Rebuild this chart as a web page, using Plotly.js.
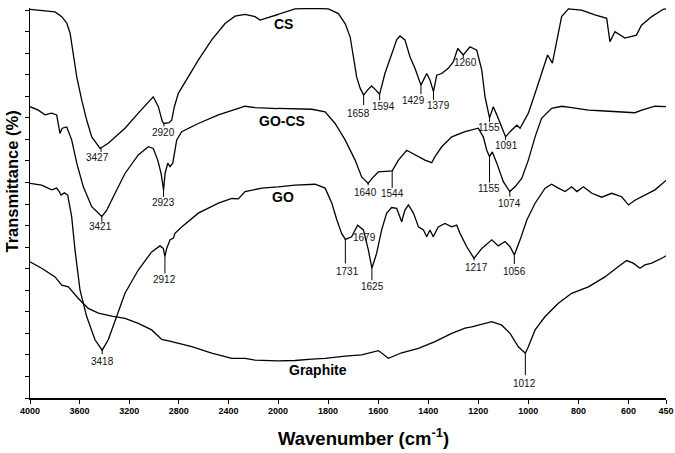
<!DOCTYPE html>
<html>
<head>
<meta charset="utf-8">
<script src="https://cdn.plot.ly/plotly-3.0.1.min.js"></script>
<style>
  html, body { margin: 0; padding: 0; background: #fff; }
  #chart { width: 675px; height: 453px; }
</style>
</head>
<body>
<div id="chart"></div>
<script>
// FTIR spectra (wavenumber in cm-1, transmittance in arbitrary %)
const csWn = [4000, 3798, 3744, 3704, 3677, 3651, 3623, 3583, 3543, 3502,
    3435, 3369, 3234, 3127, 3046, 3006, 2965, 2933, 2920, 2879,
    2857, 2836, 2804, 2723, 2643, 2535, 2427, 2347, 2266, 2185,
    2145, 2000, 1932, 1865, 1799, 1759, 1732, 1712, 1699, 1686,
    1672, 1658, 1642, 1626, 1610, 1594, 1573, 1546, 1526, 1513,
    1493, 1473, 1453, 1429, 1406, 1393, 1379, 1366, 1346, 1320,
    1300, 1282, 1260, 1233, 1206, 1186, 1173, 1155, 1140, 1126,
    1091, 1073, 1046, 1033, 1000, 973, 947, 923, 904, 887,
    867, 840, 787, 734, 687, 674, 654, 614, 568, 548,
    507, 461, 450];
const csT = [90.2, 89.6, 88.5, 87.0, 84.7, 80.0, 74.5, 69.1, 64.5, 60.6,
    57.9, 59.1, 62.6, 66.1, 68.7, 69.9, 67.6, 64.1, 63.7, 63.9,
    64.5, 67.6, 70.7, 74.5, 78.4, 83.1, 86.9, 88.6, 89.0, 88.5,
    87.7, 89.0, 90.3, 90.4, 90.3, 89.2, 86.9, 83.8, 79.2, 74.5,
    71.9, 70.3, 71.5, 72.4, 71.5, 70.5, 75.3, 80.0, 83.1, 84.0,
    83.1, 79.2, 76.5, 72.6, 75.3, 73.8, 71.1, 74.9, 75.3, 76.5,
    78.0, 81.1, 79.6, 81.5, 80.7, 76.1, 69.9, 65.0, 67.6, 65.7,
    60.6, 61.8, 63.3, 62.6, 66.1, 70.7, 75.3, 79.6, 77.7, 83.1,
    88.5, 90.3, 90.0, 88.9, 88.1, 82.7, 85.0, 83.5, 84.2, 86.5,
    88.5, 90.2, 90.3];

const goCsWn = [4000, 3933, 3879, 3825, 3785, 3772, 3758, 3740, 3704, 3664,
    3623, 3570, 3502, 3421, 3381, 3314, 3234, 3127, 3046, 3006,
    2970, 2943, 2923, 2911, 2889, 2871, 2849, 2817, 2777, 2643,
    2481, 2320, 2266, 2185, 2000, 1865, 1812, 1772, 1732, 1692,
    1666, 1640, 1619, 1599, 1544, 1519, 1486, 1453, 1413, 1386,
    1373, 1346, 1306, 1253, 1200, 1180, 1166, 1155, 1144, 1126,
    1100, 1074, 1053, 1026, 1000, 973, 947, 907, 867, 827,
    760, 694, 627, 574, 547, 494, 450];
const goCsT = [67.6, 66.8, 65.7, 66.1, 65.7, 63.7, 61.4, 62.6, 62.9, 59.9,
    54.5, 49.0, 44.4, 42.1, 43.6, 47.5, 52.1, 56.4, 58.3, 57.9,
    55.2, 52.1, 48.3, 52.1, 54.5, 53.7, 54.5, 59.9, 61.8, 63.7,
    65.7, 67.2, 67.7, 67.4, 67.2, 67.0, 66.4, 63.7, 59.9, 55.2,
    51.3, 49.8, 51.3, 52.5, 52.7, 55.2, 57.5, 56.4, 55.2, 54.6,
    56.0, 58.3, 60.6, 61.8, 62.6, 60.6, 57.5, 56.0, 57.1, 54.5,
    50.2, 47.9, 49.0, 51.0, 55.2, 60.6, 64.9, 67.2, 67.7, 67.4,
    66.8, 66.6, 66.4, 66.2, 66.8, 67.7, 67.6];

const goWn = [4000, 3906, 3825, 3785, 3764, 3750, 3723, 3696, 3664, 3637,
    3597, 3543, 3476, 3418, 3369, 3314, 3234, 3127, 3019, 2952,
    2925, 2912, 2898, 2871, 2844, 2831, 2777, 2643, 2481, 2373,
    2320, 2266, 2131, 2000, 1932, 1852, 1812, 1785, 1765, 1746,
    1731, 1706, 1682, 1659, 1639, 1625, 1606, 1586, 1566, 1546,
    1526, 1506, 1493, 1479, 1459, 1439, 1419, 1406, 1393, 1380,
    1360, 1333, 1306, 1286, 1273, 1246, 1217, 1186, 1146, 1120,
    1093, 1073, 1056, 1033, 1006, 973, 933, 907, 880, 853,
    827, 806, 780, 746, 707, 667, 627, 600, 574, 534,
    494, 450];
const goT = [49.8, 49.4, 48.3, 48.7, 47.9, 47.1, 47.6, 47.1, 42.1, 34.3,
    25.1, 18.9, 13.5, 11.1, 13.5, 18.1, 24.3, 29.7, 33.9, 35.3,
    34.7, 32.8, 34.7, 36.7, 37.1, 38.2, 39.7, 42.9, 45.2, 46.3,
    46.2, 47.9, 48.7, 49.0, 49.4, 49.6, 48.7, 45.2, 41.3, 38.2,
    36.8, 37.4, 40.1, 39.0, 34.3, 30.1, 33.6, 39.0, 42.9, 44.2,
    44.0, 40.9, 43.6, 44.8, 42.9, 39.7, 39.0, 37.4, 39.0, 37.4,
    39.7, 40.5, 39.7, 40.1, 38.2, 35.1, 32.4, 34.7, 36.7, 35.3,
    36.3, 35.1, 33.2, 36.7, 41.3, 45.2, 48.7, 49.6, 48.7, 47.9,
    49.0, 47.9, 49.0, 47.5, 46.6, 47.5, 46.7, 44.8, 45.9, 47.1,
    48.3, 50.5];

const graphiteWn = [4000, 3906, 3798, 3744, 3691, 3610, 3530, 3449, 3341, 3234,
    3127, 3019, 2938, 2857, 2696, 2535, 2373, 2266, 2185, 2131,
    2000, 1932, 1865, 1812, 1732, 1666, 1599, 1559, 1506, 1439,
    1373, 1306, 1253, 1226, 1146, 1106, 1073, 1040, 1012, 1000,
    973, 933, 880, 827, 760, 694, 640, 607, 581, 554,
    534, 507, 461, 450];
const graphiteT = [31.6, 30.1, 28.1, 26.2, 25.8, 23.1, 20.8, 19.7, 19.0, 18.5,
    17.3, 15.8, 13.6, 13.1, 11.9, 10.4, 9.2, 9.2, 8.8, 8.7,
    8.6, 8.7, 9.0, 9.2, 9.7, 10.0, 11.0, 9.2, 10.5, 11.5,
    13.1, 15.0, 16.2, 16.5, 17.7, 16.9, 15.0, 11.9, 10.4, 11.9,
    15.8, 18.9, 22.0, 24.3, 25.8, 28.1, 30.5, 31.9, 31.3, 30.1,
    30.9, 31.3, 32.6, 33.0];

// labelled band positions
const csPeaks = [3427, 2920, 1658, 1594, 1429, 1379, 1260, 1155, 1091];
const goCsPeaks = [3421, 2923, 1640, 1544, 1155, 1074];
const goPeaks = [3418, 2912, 1731, 1679, 1625, 1217, 1056];
const graphitePeaks = [1012];

const leftTicks = [4000, 3600, 3200, 2800, 2400, 2000];
const rightTicks = [1800, 1600, 1400, 1200, 1000, 800, 600, 450];

// marker style per band: [line length px, text drop px, text shift px]
const markStyle = {
    'CS3427': [4, 10, -4], 'CS2920': [3, 9, 0], 'CS1658': [10, 18, -5], 'CS1594': [6, 12, 4],
    'CS1429': [9, 15, -7], 'CS1379': [8, 14, 5], 'CS1260': [3, 8, 2], 'CS1155': [4, 10, -1],
    'CS1091': [3, 9, 1],
    'GOCS3421': [5, 10, -1], 'GOCS2923': [7, 13, 0], 'GOCS1640': [2, 9, -3], 'GOCS1544': [17, 23, 0],
    'GOCS1155': [26, 32, -1], 'GOCS1074': [5, 12, 0],
    'GO3418': [4, 11, 0], 'GO2912': [17, 23, 0], 'GO1731': [24, 32, 2], 'GO1679': [0, 12, 6],
    'GO1625': [12, 18, 1], 'GO1217': [2, 9, 2], 'GO1056': [9, 17, 0],
    'G1012': [22, 30, -1]
};

// value of a spectrum at a given wavenumber (linear between read points)
function yAt(xs, ys, w) {
    for (let i = 0; i < xs.length - 1; i++) {
        if (xs[i] >= w && w >= xs[i + 1]) {
            const f = (xs[i] - w) / (xs[i] - xs[i + 1]);
            return ys[i] + f * (ys[i + 1] - ys[i]);
        }
    }
    return ys[ys.length - 1];
}

const spectra = [
    { key: 'CS', wn: csWn, t: csT, peaks: csPeaks },
    { key: 'GOCS', wn: goCsWn, t: goCsT, peaks: goCsPeaks },
    { key: 'GO', wn: goWn, t: goT, peaks: goPeaks },
    { key: 'G', wn: graphiteWn, t: graphiteT, peaks: graphitePeaks }
];

const traces = [];
const shapes = [];
const annotations = [];
const numFont = { family: 'Liberation Sans, Arial, sans-serif', size: 10, color: '#111' };

spectra.forEach(s => {
    // same spectrum on both halves of the broken axis; each subplot clips its part
    ['x', 'x2'].forEach(ax => {
        traces.push({
            x: s.wn, y: s.t, xaxis: ax, yaxis: 'y',
            type: 'scatter', mode: 'lines',
            line: { color: '#000', width: 1.3 },
            hoverinfo: 'skip', showlegend: false
        });
    });

    s.peaks.forEach(w => {
        const st = markStyle[s.key + w];
        const xr = w >= 2000 ? 'x' : 'x2';
        const yv = yAt(s.wn, s.t, w);
        if (st[0] > 0) {
            shapes.push({
                type: 'line', xref: xr, yref: 'y', ysizemode: 'pixel', yanchor: yv,
                x0: w, x1: w, y0: 0, y1: -st[0],
                line: { color: '#000', width: 1 }
            });
        }
        annotations.push({
            xref: xr, yref: 'y', x: w, y: yv, text: String(w),
            showarrow: false, yshift: -st[1], xshift: st[2],
            xanchor: 'center', yanchor: 'middle', font: numFont
        });
    });
});

// series names
const nameFont = { family: 'Liberation Sans, Arial, sans-serif', size: 14, color: '#000', weight: 'bold' };
[['CS', 1979, 86.8], ['GO-CS', 1983, 64.3], ['GO', 1979, 46.7], ['Graphite', 1839, 6.5]].forEach(n => {
    annotations.push({
        xref: 'x2', yref: 'y', x: n[1], y: n[2], text: n[0], showarrow: false,
        xanchor: 'center', yanchor: 'middle', font: nameFont
    });
});

// axis titles
annotations.push({
    xref: 'paper', yref: 'paper', x: 0.525, y: -0.1, text: 'Wavenumber (cm<sup>-1</sup>)',
    showarrow: false, xanchor: 'center', yanchor: 'middle',
    font: { family: 'Liberation Sans, Arial, sans-serif', size: 18.5, color: '#000', weight: 'bold' }
});
annotations.push({
    xref: 'paper', yref: 'paper', x: -0.029, y: 0.554, text: 'Transmittance (%)', textangle: -90,
    showarrow: false, xanchor: 'center', yanchor: 'middle',
    font: { family: 'Liberation Sans, Arial, sans-serif', size: 16.5, color: '#000', weight: 'bold' }
});

const tickFont = { family: 'Liberation Sans, Arial, sans-serif', size: 9, color: '#000', weight: 'bold' };
const xCommon = {
    ticks: 'outside', ticklen: 4, tickwidth: 1, tickcolor: '#000',
    showline: true, linewidth: 1.5, linecolor: '#000',
    showgrid: false, zeroline: false, tickfont: tickFont, fixedrange: true
};

const layout = {
    width: 675, height: 453,
    margin: { l: 30, r: 9, t: 8, b: 55 },
    paper_bgcolor: '#fff', plot_bgcolor: '#fff',
    showlegend: false,
    xaxis: { ...xCommon, domain: [0, 0.39], range: [4000, 2000], tickmode: 'array', tickvals: leftTicks, anchor: 'y' },
    xaxis2: { ...xCommon, domain: [0.39, 1], range: [2000, 450], tickmode: 'array', tickvals: rightTicks, anchor: 'y' },
    yaxis: {
        range: [0, 90.5], tickmode: 'linear', tick0: 0, dtick: 5,
        ticks: 'outside', ticklen: 4, tickwidth: 1, tickcolor: '#000',
        showticklabels: false, showline: true, linewidth: 1.5, linecolor: '#000',
        showgrid: false, zeroline: false, anchor: 'x', fixedrange: true
    },
    shapes: shapes,
    annotations: annotations
};

Plotly.newPlot('chart', traces, layout, { displayModeBar: false, staticPlot: true });
</script>
</body>
</html>
